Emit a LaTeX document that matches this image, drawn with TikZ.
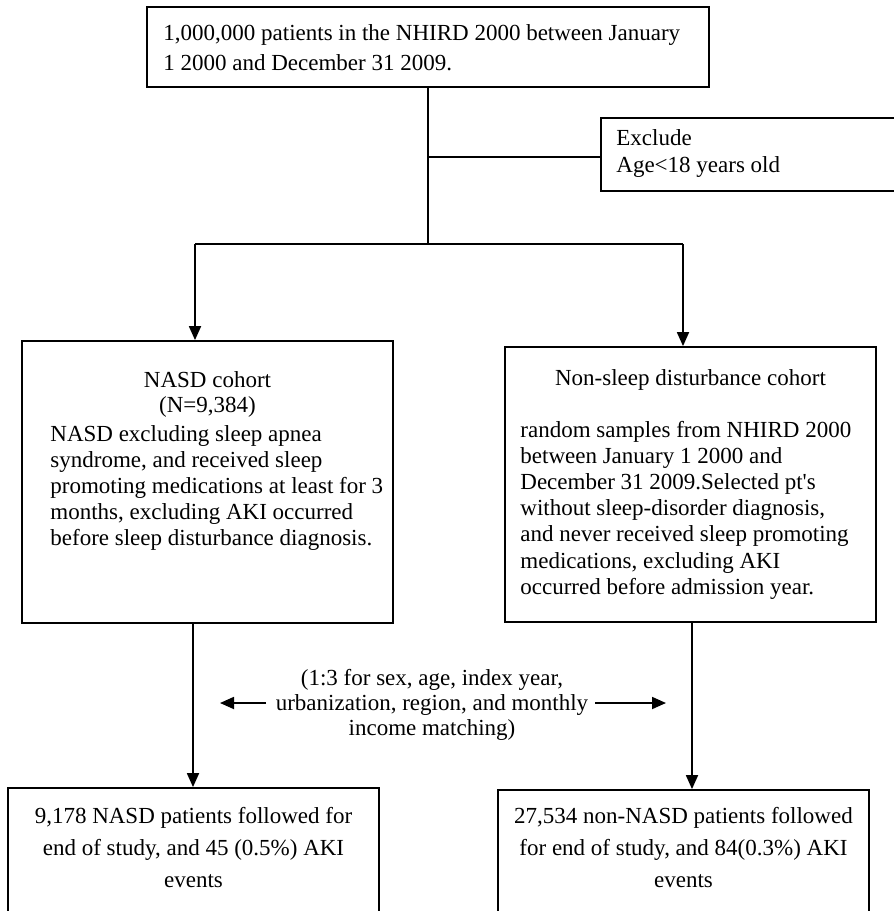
\documentclass[tikz,border=0pt]{standalone}
\usepackage{fontspec}
\setmainfont{Liberation Serif}
\usetikzlibrary{arrows.meta,
                positioning, % For easy node-relative placements
               }
\tikzstyle{box} = [rectangle, draw=black, line width=0.9pt, inner sep=0pt]
\tikzstyle{txt} = [inner sep=0pt, align=left, font=\fontsize{11.5pt}{13.1pt}\selectfont]
\tikzstyle{link} = [line width=0.9pt]
\tikzstyle{arrow} = [link, -{Triangle[length=7pt, width=6pt]}]

\begin{document}
\begin{tikzpicture}[x=0.5pt, y=-0.5pt]
  \useasboundingbox (0,0) rectangle (894,911);

  % boxes
  \node (src) [box, minimum width=281pt, minimum height=40pt] at (428,47) {};
  \node (excl) [box, minimum width=149.5pt, minimum height=36.5pt] at (750.5,154.5) {};
  \node (nasd) [box, minimum width=185.5pt, minimum height=141pt] at (207.5,482) {};
  \node (ctrl) [box, minimum width=185.5pt, minimum height=137.5pt] at (690.5,484.5) {};
  \node (nasdend) [box, minimum width=185.5pt, minimum height=76pt] at (193.5,864) {};
  \node (ctrlend) [box, minimum width=185.5pt, minimum height=75pt] at (683.5,865) {};

  % texts
  \node (srctxt) [txt, anchor=west, font=\fontsize{11.5pt}{15pt}\selectfont] at (163,48)
    {1,000,000 patients in the NHIRD 2000 between January\\1 2000 and December 31 2009.};
  \node (excltxt) [txt, anchor=west, font=\fontsize{11.5pt}{13.5pt}\selectfont] at (616,153.5)
    {Exclude\\Age<18 years old};
  \node (nasdhead) [txt] at (207.5,380) {NASD cohort};
  \node (nasdn) [txt] at (207.5,407) {(N=9,384)};
  \node (nasdtxt) [txt, anchor=west] at (50,488)
    {NASD excluding sleep apnea\\syndrome, and received sleep\\promoting medications at least for 3\\months, excluding AKI occurred\\before sleep disturbance diagnosis.};
  \node (ctrlhead) [txt] at (690.5,380) {Non-sleep disturbance cohort};
  \node (ctrltxt) [txt, anchor=west] at (520,510)
    {random samples from NHIRD 2000\\between January 1 2000 and\\December 31 2009.Selected pt\textquotesingle s\\without sleep-disorder diagnosis,\\and never received sleep promoting\\medications, excluding AKI\\occurred before admission year.};
  \node (match) [txt, align=center, font=\fontsize{11.5pt}{12.5pt}\selectfont] at (432,705)
    {(1:3 for sex, age, index year,\\urbanization, region, and monthly\\income matching)};
  \node (nasdendtxt) [txt, align=center, font=\fontsize{11.5pt}{16pt}\selectfont] at (193.5,848)
    {9,178 NASD patients followed for\\end of study, and 45 (0.5\%) AKI\\events};
  \node (ctrlendtxt) [txt, align=center, font=\fontsize{11.5pt}{16pt}\selectfont] at (683.5,848)
    {27,534 non-NASD patients followed\\for end of study, and 84(0.3\%) AKI\\events};

  % connectors
  \coordinate (split) at (428,244);
  \coordinate (sL) at (195,244);
  \coordinate (sR) at (683,244);
  \coordinate (xcut) at (428,157);
  \draw [link] (src.south) -- (split);
  \draw [link] (xcut) -- (xcut -| excl.west);
  \draw [link] (sL) -- (sR);
  \draw [arrow] (sL) -- (sL |- nasd.north);
  \draw [arrow] (sR) -- (sR |- ctrl.north);

  \coordinate (dL) at (193,0);
  \coordinate (dR) at (692,0);
  \draw [arrow] (dL |- nasd.south) -- (dL |- nasdend.north);
  \draw [arrow] (dR |- ctrl.south) -- (dR |- ctrlend.north);

  \coordinate (mLa) at (266,703);
  \coordinate (mLb) at (220,703);
  \coordinate (mRa) at (595,703);
  \coordinate (mRb) at (666,703);
  \draw [arrow] (mLa) -- (mLb);
  \draw [arrow] (mRa) -- (mRb);
\end{tikzpicture}
\end{document}
